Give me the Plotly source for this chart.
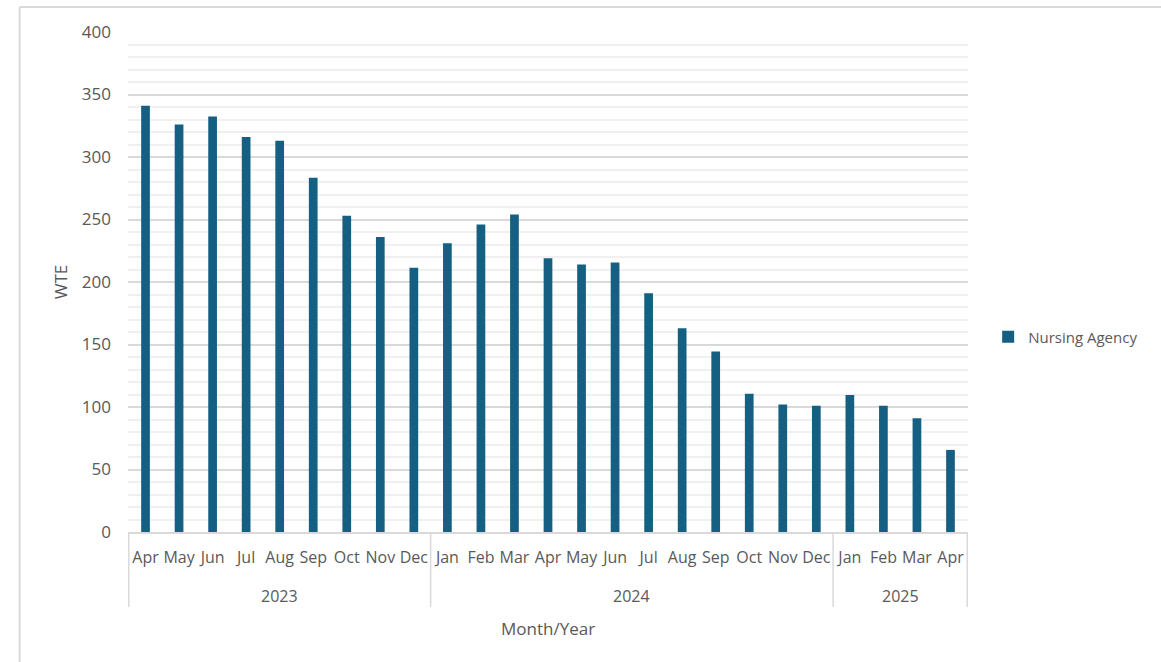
import plotly.graph_objects as go

years = ["2023"] * 9 + ["2024"] * 12 + ["2025"] * 4
months = ["Apr", "May", "Jun", "Jul", "Aug", "Sep", "Oct", "Nov", "Dec",
          "Jan", "Feb", "Mar", "Apr", "May", "Jun", "Jul", "Aug", "Sep", "Oct", "Nov", "Dec",
          "Jan", "Feb", "Mar", "Apr"]
nursing_agency = [341, 326, 332.5, 316, 313, 283.5, 253, 236, 211.5,
                  231, 246, 254, 219, 214, 215.7, 191, 163, 144.5, 110.7, 102, 101,
                  109.7, 101, 91, 65.7]

categories = [f"{m} {y}" for m, y in zip(months, years)]

FONT = "'Open Sans', 'Noto Sans', sans-serif"
GREY = "#595959"
LINE = "#d9d9d9"

fig = go.Figure()
fig.add_trace(go.Bar(
    x=categories, y=nursing_agency, name="Nursing Agency",
    marker=dict(color="#156082", line=dict(width=0)),
))

# year groups: label centres and divider positions
year_names = []
for y in years:
    if y not in year_names:
        year_names.append(y)
annotations = []
shapes = []
bounds = [-0.5]
for yn in year_names:
    idx = [i for i, y in enumerate(years) if y == yn]
    annotations.append(dict(x=(idx[0] + idx[-1]) / 2, xref="x", y=-0.128, yref="paper",
                            text=yn, showarrow=False, yanchor="middle",
                            font=dict(size=16, color=GREY)))
    bounds.append(idx[-1] + 0.5)
for b in bounds:
    shapes.append(dict(type="line", xref="x", yref="paper", x0=b, x1=b, y0=0, y1=-0.15,
                       line=dict(color=LINE, width=1.5)))

annotations.append(dict(x=0.5, xref="paper", y=-0.192, yref="paper", text="Month/Year",
                        showarrow=False, yanchor="middle", font=dict(size=17, color=GREY)))

shapes += [
    dict(type="line", xref="paper", yref="paper", x0=-0.129, x1=1.3, y0=1.05, y1=1.05,
         line=dict(color=LINE, width=2)),
    dict(type="line", xref="paper", yref="paper", x0=-0.129, x1=-0.129, y0=1.05, y1=-0.3,
         line=dict(color=LINE, width=2)),
]

fig.update_layout(
    width=1161, height=662,
    margin=dict(l=128, r=193, t=32, b=130),
    paper_bgcolor="white", plot_bgcolor="white",
    font=dict(family=FONT, size=16, color=GREY),
    bargap=0.74,
    showlegend=True,
    legend=dict(x=1.024, y=0.39, xanchor="left", yanchor="middle",
                font=dict(size=15, color=GREY)),
    xaxis=dict(
        type="category",
        tickmode="array", tickvals=categories, ticktext=months,
        tickangle=0,
        showline=True, linecolor=LINE, linewidth=1.5,
        showgrid=False, ticks="",
        tickfont=dict(size=16, color=GREY),
        ticklabelstandoff=10,
        automargin=False,
    ),
    yaxis=dict(
        range=[0, 400], dtick=50,
        showline=False, zeroline=False,
        gridcolor=LINE, gridwidth=1.5,
        minor=dict(dtick=10, showgrid=True, gridcolor="#f0f0f0", gridwidth=1.5),
        tickfont=dict(size=17, color=GREY),
        ticks="", ticklabelstandoff=16,
        title=dict(text="WTE", font=dict(size=17, color=GREY), standoff=9),
        automargin=False,
    ),
    annotations=annotations,
    shapes=shapes,
)

fig.write_html("out.html")
